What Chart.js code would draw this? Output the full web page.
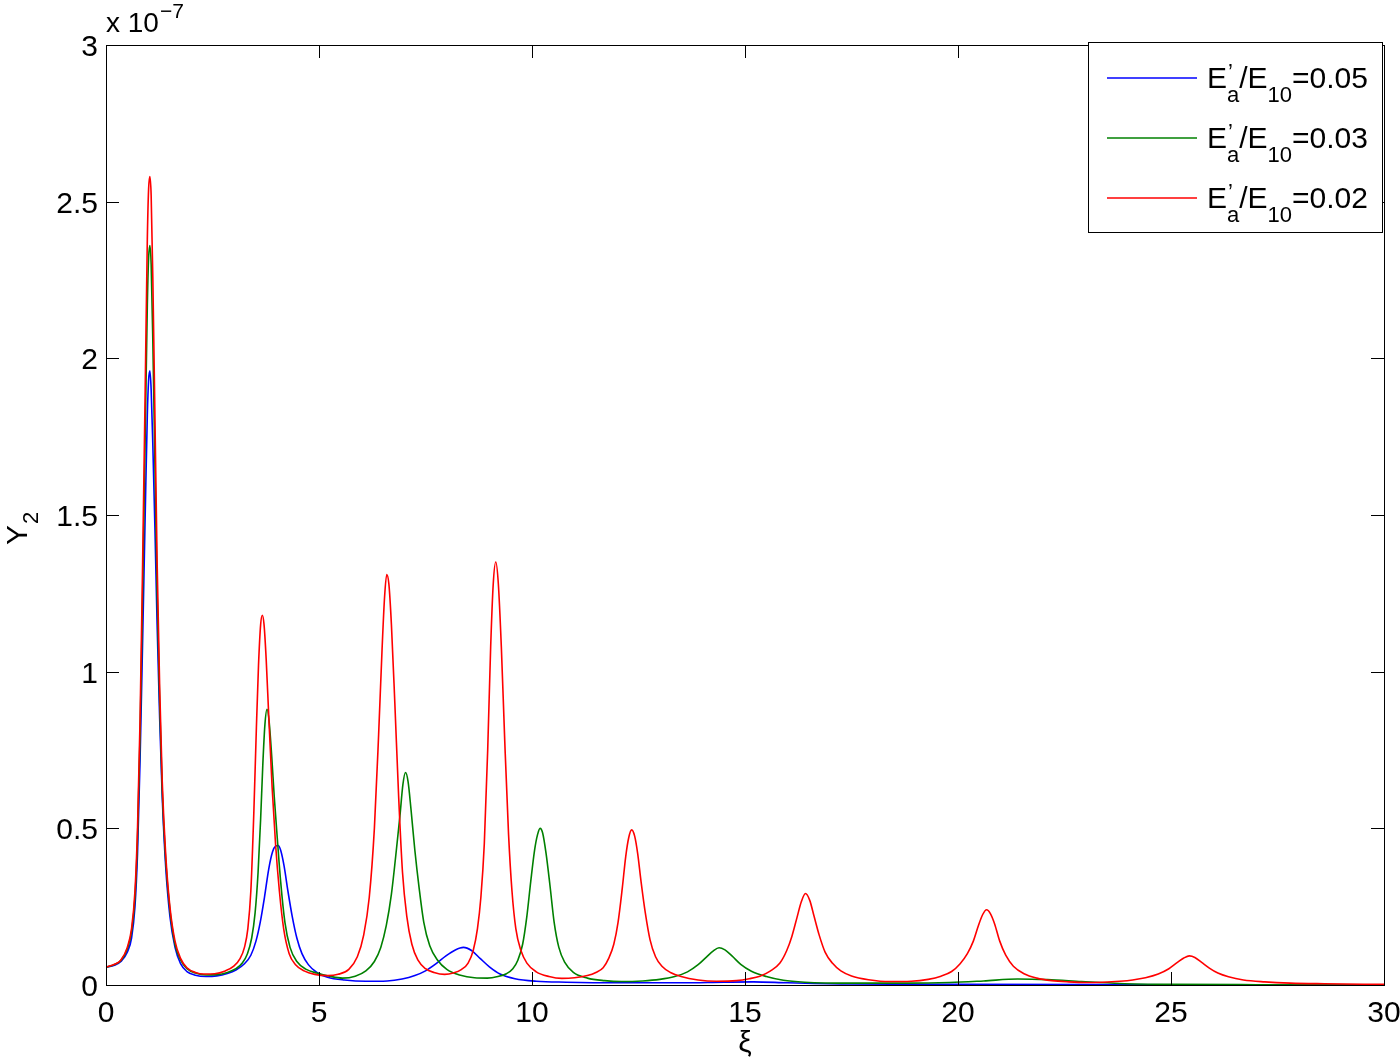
<!DOCTYPE html>
<html>
<head>
<meta charset="utf-8">
<script src="https://cdn.jsdelivr.net/npm/chart.js@4.4.0/dist/chart.umd.min.js"></script>
<style>
html,body{margin:0;padding:0;background:#fff;}
canvas{display:block;}
</style>
</head>
<body>
<canvas id="c" width="1400" height="1062"></canvas>
<script>
// ---- data (values in units of 1e-7) ----
const seriesLabels = ["E'a/E10=0.05", "E'a/E10=0.03", "E'a/E10=0.02"];
const legendValues = ["0.05", "0.03", "0.02"];
const seriesColors = ["#0000ff", "#008000", "#ff0000"];

const xTicks = [0, 5, 10, 15, 20, 25, 30];
const yTicks = [0, 0.5, 1, 1.5, 2, 2.5, 3];
const xTickLabels = ["0", "5", "10", "15", "20", "25", "30"];
const yTickLabels = ["0", "0.5", "1", "1.5", "2", "2.5", "3"];

const blueX = [0,0.2,0.35,0.5,0.6,0.68,0.74,0.8,0.86,0.92,0.97,1.0,1.03,1.06,1.1,1.15,1.2,1.26,1.32,1.4,1.5,1.62,1.75,1.9,2.1,2.35,2.6,2.85,3.05,3.25,3.4,3.52,3.62,3.72,3.82,3.91,3.98,4.04,4.1,4.18,4.27,4.37,4.48,4.6,4.75,4.95,5.2,5.6,6.1,6.6,6.95,7.25,7.5,7.75,7.98,8.2,8.39,8.58,8.78,9.0,9.25,9.6,10.1,10.8,12,13.5,14.5,15.2,16,17.5,20,25,30];
const blueY = [0.057,0.063,0.075,0.105,0.15,0.25,0.42,0.72,1.1,1.5,1.82,1.93,1.96,1.9,1.72,1.45,1.15,0.85,0.6,0.38,0.22,0.12,0.068,0.043,0.031,0.027,0.029,0.037,0.048,0.068,0.095,0.14,0.2,0.28,0.37,0.425,0.443,0.445,0.43,0.38,0.3,0.22,0.15,0.1,0.065,0.04,0.025,0.016,0.012,0.013,0.019,0.03,0.045,0.068,0.093,0.112,0.12,0.11,0.085,0.058,0.035,0.02,0.012,0.009,0.007,0.007,0.009,0.01,0.007,0.003,0.002,0.001,0.0];

const greenX = [0,0.2,0.35,0.5,0.6,0.68,0.74,0.8,0.86,0.92,0.97,1.0,1.03,1.06,1.1,1.15,1.2,1.26,1.32,1.4,1.5,1.62,1.75,1.9,2.1,2.35,2.6,2.85,3.05,3.2,3.32,3.42,3.5,3.57,3.63,3.68,3.73,3.78,3.83,3.89,3.95,4.02,4.1,4.2,4.32,4.48,4.7,4.95,5.25,5.55,5.85,6.1,6.3,6.45,6.58,6.7,6.8,6.9,6.97,7.03,7.09,7.16,7.25,7.35,7.46,7.6,7.78,8.0,8.3,8.65,8.95,9.2,9.4,9.55,9.67,9.78,9.88,9.97,10.06,10.13,10.19,10.25,10.33,10.42,10.52,10.63,10.77,10.97,11.3,11.7,12.1,12.6,13.0,13.35,13.65,13.9,14.1,14.25,14.39,14.53,14.7,14.9,15.15,15.5,15.9,16.4,17.5,18.8,19.8,20.6,21.4,22.1,22.9,23.8,25,27,30];
const greenY = [0.057,0.065,0.078,0.115,0.17,0.28,0.47,0.8,1.25,1.75,2.17,2.32,2.36,2.3,2.05,1.65,1.25,0.9,0.62,0.4,0.24,0.13,0.08,0.052,0.038,0.032,0.033,0.04,0.052,0.07,0.1,0.15,0.23,0.36,0.53,0.7,0.83,0.88,0.84,0.73,0.6,0.47,0.33,0.2,0.12,0.075,0.05,0.038,0.028,0.022,0.028,0.045,0.075,0.12,0.19,0.29,0.41,0.54,0.64,0.678,0.65,0.56,0.43,0.31,0.2,0.125,0.08,0.05,0.032,0.023,0.022,0.027,0.036,0.052,0.08,0.13,0.22,0.33,0.43,0.48,0.5,0.485,0.42,0.32,0.2,0.12,0.072,0.04,0.022,0.014,0.011,0.013,0.018,0.027,0.042,0.065,0.09,0.108,0.119,0.112,0.092,0.066,0.044,0.027,0.015,0.009,0.006,0.006,0.008,0.013,0.019,0.017,0.011,0.005,0.002,0.001,0.0];

const redX = [0,0.2,0.35,0.5,0.6,0.68,0.74,0.8,0.86,0.92,0.97,1.0,1.03,1.06,1.1,1.15,1.2,1.26,1.32,1.4,1.5,1.62,1.75,1.9,2.1,2.3,2.55,2.8,3.0,3.15,3.25,3.33,3.4,3.47,3.53,3.58,3.63,3.67,3.71,3.76,3.82,3.9,3.98,4.07,4.17,4.3,4.45,4.65,4.9,5.2,5.45,5.7,5.9,6.05,6.18,6.3,6.4,6.48,6.54,6.59,6.64,6.7,6.78,6.87,6.96,7.06,7.18,7.32,7.5,7.7,7.95,8.15,8.35,8.5,8.62,8.72,8.8,8.88,8.96,9.03,9.09,9.15,9.21,9.28,9.36,9.45,9.53,9.62,9.74,9.88,10.1,10.4,10.7,11.0,11.3,11.5,11.67,11.8,11.92,12.02,12.12,12.2,12.27,12.34,12.41,12.48,12.56,12.66,12.77,12.9,13.05,13.25,13.5,13.9,14.33,14.8,15.1,15.35,15.6,15.82,15.98,16.1,16.22,16.32,16.42,16.52,16.62,16.74,16.88,17.05,17.25,17.5,17.9,18.4,18.9,19.3,19.6,19.85,20.05,20.22,20.36,20.48,20.58,20.67,20.76,20.86,20.98,21.12,21.3,21.55,21.85,22.2,22.6,23.0,23.4,23.8,24.1,24.4,24.7,24.95,25.15,25.3,25.43,25.56,25.72,25.9,26.1,26.35,26.7,27.2,27.8,28.6,30];
const redY = [0.057,0.066,0.08,0.12,0.18,0.3,0.5,0.85,1.35,1.9,2.38,2.54,2.58,2.52,2.25,1.8,1.35,0.95,0.65,0.42,0.25,0.14,0.085,0.055,0.04,0.035,0.036,0.045,0.06,0.085,0.12,0.18,0.3,0.55,0.82,1.02,1.15,1.18,1.15,1.04,0.86,0.63,0.45,0.3,0.18,0.1,0.065,0.045,0.034,0.03,0.034,0.05,0.09,0.16,0.28,0.5,0.8,1.07,1.24,1.31,1.28,1.15,0.9,0.6,0.36,0.22,0.13,0.08,0.052,0.04,0.034,0.038,0.05,0.07,0.11,0.18,0.28,0.45,0.75,1.08,1.28,1.35,1.28,1.08,0.78,0.48,0.3,0.18,0.11,0.07,0.042,0.027,0.021,0.023,0.03,0.04,0.055,0.085,0.13,0.2,0.31,0.41,0.47,0.495,0.475,0.42,0.33,0.23,0.145,0.09,0.06,0.04,0.027,0.016,0.012,0.014,0.02,0.028,0.045,0.07,0.11,0.155,0.215,0.265,0.292,0.27,0.22,0.16,0.105,0.07,0.045,0.029,0.017,0.011,0.012,0.018,0.028,0.043,0.068,0.1,0.14,0.19,0.225,0.24,0.228,0.195,0.14,0.095,0.06,0.036,0.022,0.014,0.01,0.008,0.009,0.012,0.016,0.023,0.035,0.052,0.072,0.086,0.093,0.088,0.072,0.054,0.038,0.026,0.016,0.01,0.006,0.004,0.002];

const seriesX = [blueX, greenX, redX];
const seriesY = [blueY, greenY, redY];

const FONT = "'Liberation Sans', Arial, Helvetica, sans-serif";

const datasets = seriesX.map((xs, i) => ({
  label: seriesLabels[i],
  data: xs.map((x, k) => ({x: x, y: seriesY[i][k]})),
  borderColor: seriesColors[i],
  backgroundColor: seriesColors[i],
  borderWidth: 1.6,
  pointRadius: 0,
  fill: false,
  cubicInterpolationMode: 'monotone',
  order: 3 - i
}));

const framePlugin = {
  id: 'frame',
  afterDraw(chart) {
    const {ctx, chartArea: a, scales: {x, y}} = chart;
    ctx.save();
    ctx.strokeStyle = '#000';
    ctx.lineWidth = 1;
    ctx.strokeRect(Math.round(a.left) + 0.5, Math.round(a.top) + 0.5, Math.round(a.right - a.left), Math.round(a.bottom - a.top));
    const tl = 13;
    ctx.beginPath();
    xTicks.forEach(v => {
      const px = Math.round(x.getPixelForValue(v)) + 0.5;
      ctx.moveTo(px, a.bottom); ctx.lineTo(px, a.bottom - tl);
      ctx.moveTo(px, a.top); ctx.lineTo(px, a.top + tl);
    });
    yTicks.forEach(v => {
      const py = Math.round(y.getPixelForValue(v)) + 0.5;
      ctx.moveTo(a.left, py); ctx.lineTo(a.left + tl, py);
      ctx.moveTo(a.right, py); ctx.lineTo(a.right - tl, py);
    });
    ctx.stroke();

    // tick labels
    ctx.fillStyle = '#000';
    ctx.textBaseline = 'alphabetic';
    ctx.font = '30px ' + FONT;
    ctx.textAlign = 'center';
    xTicks.forEach((v, i) => {
      ctx.fillText(xTickLabels[i], x.getPixelForValue(v), 1022);
    });
    ctx.textAlign = 'right';
    yTicks.forEach((v, i) => {
      ctx.fillText(yTickLabels[i], 98, y.getPixelForValue(v) + 11);
    });

    // exponent label
    ctx.textAlign = 'left';
    ctx.font = '28px ' + FONT;
    ctx.fillText('x 10', a.left, 32);
    const w10 = ctx.measureText('x 10').width;
    ctx.font = '21px ' + FONT;
    ctx.fillText('\u22127', a.left + w10 + 1, 18);

    // x title
    ctx.font = '30px ' + FONT;
    ctx.textAlign = 'center';
    ctx.fillText('\u03be', (a.left + a.right) / 2, 1052);

    // y title (rotated) Y with subscript 2
    ctx.save();
    ctx.translate(27, 545);
    ctx.rotate(-Math.PI / 2);
    ctx.textAlign = 'left';
    ctx.font = '30px ' + FONT;
    ctx.fillText('Y', 0, 0);
    const wy = ctx.measureText('Y').width;
    ctx.font = '22px ' + FONT;
    ctx.fillText('2', wy + 1, 11);
    ctx.restore();

    // legend
    const bx = 1088.5, by = 42.5, bw = 294, bh = 190;
    ctx.fillStyle = '#fff';
    ctx.fillRect(bx, by, bw, bh);
    ctx.strokeStyle = '#000';
    ctx.lineWidth = 1;
    ctx.strokeRect(bx, by, bw, bh);
    chart.data.datasets.forEach((ds, i) => {
      const ly = 78 + i * 60;
      ctx.strokeStyle = ds.borderColor;
      ctx.lineWidth = 1.6;
      ctx.beginPath();
      ctx.moveTo(1107, ly); ctx.lineTo(1197, ly);
      ctx.stroke();
      const base = 88 + i * 60;
      let tx = 1207;
      ctx.fillStyle = '#000';
      ctx.textAlign = 'left';
      ctx.font = '30px ' + FONT;
      ctx.fillText('E', tx, base);
      tx += ctx.measureText('E').width;
      ctx.font = '22px ' + FONT;
      ctx.fillText('a', tx, base + 14);
      ctx.fillText('\u2019', tx + 1, base - 9);
      tx += ctx.measureText('a').width;
      ctx.font = '30px ' + FONT;
      ctx.fillText('/E', tx, base);
      tx += ctx.measureText('/E').width;
      ctx.font = '22px ' + FONT;
      ctx.fillText('10', tx, base + 14);
      tx += ctx.measureText('10').width;
      ctx.font = '30px ' + FONT;
      ctx.fillText('=' + legendValues[i], tx, base);
    });
    ctx.restore();
  }
};

new Chart(document.getElementById('c'), {
  type: 'line',
  data: {datasets: datasets},
  options: {
    responsive: false,
    animation: false,
    devicePixelRatio: 1,
    layout: {padding: {top: 45, right: 16, left: 0, bottom: 0}},
    plugins: {legend: {display: false}, tooltip: {enabled: false}},
    scales: {
      x: {
        type: 'linear', min: 0, max: 30,
        afterBuildTicks(scale) { scale.ticks = xTicks.map(v => ({value: v})); },
        afterFit(scale) { scale.height = 77; scale.paddingLeft = 0; scale.paddingRight = 0; },
        grid: {display: false, drawTicks: false},
        border: {display: false},
        ticks: {display: false}
      },
      y: {
        type: 'linear', min: 0, max: 3,
        afterBuildTicks(scale) { scale.ticks = yTicks.map(v => ({value: v})); },
        afterFit(scale) { scale.width = 106; scale.paddingTop = 0; scale.paddingBottom = 0; },
        grid: {display: false, drawTicks: false},
        border: {display: false},
        ticks: {display: false}
      }
    }
  },
  plugins: [framePlugin]
});
</script>
</body>
</html>
